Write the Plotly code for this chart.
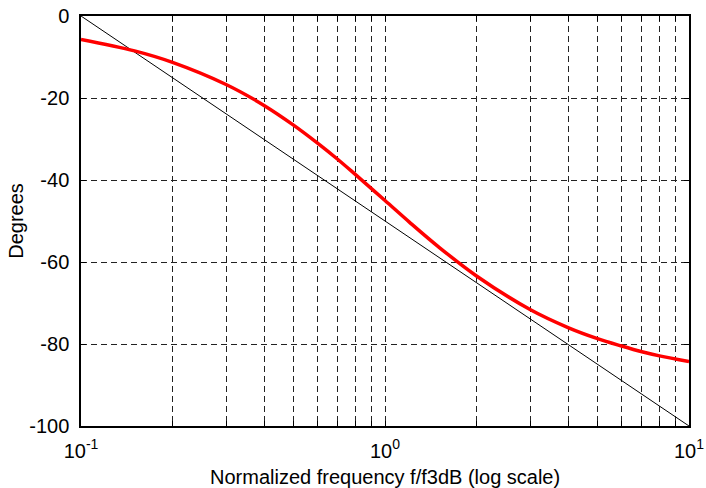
import plotly.graph_objects as go

# Normalized frequency (f/f3dB) and phase in degrees
freq = [0.1, 0.15, 0.2, 0.3, 0.4, 0.5, 0.6, 0.7, 0.8, 1.0, 1.2, 1.5, 2.0, 3.0, 4.0, 5.0, 6.0, 7.0, 8.0, 10.0]
phase = [-5.7, -8.5, -11.3, -16.7, -21.8, -26.6, -31.0, -35.0, -38.7, -45.0, -50.2, -56.3, -63.4, -71.6, -76.0, -78.7, -80.5, -81.9, -82.9, -84.3]

# Straight-line asymptotic approximation
approx_freq = [0.1, 10.0]
approx_phase = [0.0, -100.0]

# Axis ticks
x_major_vals = [0.1, 1, 10]
x_major_text = ["10<sup>-1</sup>", "10<sup>0</sup>", "10<sup>1</sup>"]
x_minor_vals = [0.2, 0.3, 0.4, 0.5, 0.6, 0.7, 0.8, 0.9, 2, 3, 4, 5, 6, 7, 8, 9]
y_tickvals = [0, -20, -40, -60, -80, -100]
y_ticktext = ["0", "-20", "-40", "-60", "-80", "-100"]

x_title = "Normalized frequency f/f3dB (log scale)"
y_title = "Degrees"

FONT = "Liberation Sans, Arial, sans-serif"
GRID = dict(showgrid=True, gridcolor="#222222", gridwidth=1, griddash="6px,4px")

fig = go.Figure()
fig.add_trace(go.Scatter(x=approx_freq, y=approx_phase, mode="lines",
                         line=dict(color="black", width=1), showlegend=False))
fig.add_trace(go.Scatter(x=freq, y=phase, mode="lines", line_shape="spline",
                         line=dict(color="#ff0000", width=3.5), showlegend=False))

axis_common = dict(
    showline=True, linecolor="black", linewidth=1.5, mirror="ticks",
    ticks="inside", ticklen=5, tickcolor="black", tickwidth=1,
    zeroline=False, automargin=False,
    tickfont=dict(family=FONT, size=20, color="black"),
    **GRID,
)

fig.update_xaxes(type="log", range=[-1, 1], tickmode="array",
                 tickvals=x_major_vals, ticktext=x_major_text, ticklabelstandoff=6,
                 minor=dict(tickmode="array", tickvals=x_minor_vals, ticks="inside",
                            ticklen=5, tickcolor="black", tickwidth=1, **GRID),
                 **axis_common)
fig.update_yaxes(range=[-100, 0], tickmode="array",
                 tickvals=y_tickvals, ticktext=y_ticktext, ticklabelstandoff=6,
                 title=dict(text=y_title, font=dict(family=FONT, size=20, color="black"), standoff=0),
                 **axis_common)

fig.add_annotation(text=x_title, xref="paper", yref="paper", x=0.5, y=0,
                   xanchor="center", yanchor="middle", yshift=-51, showarrow=False,
                   font=dict(family=FONT, size=20, color="black"))

fig.update_layout(width=706, height=488,
                  margin=dict(l=81, r=17, t=16, b=62),
                  paper_bgcolor="white", plot_bgcolor="white",
                  font=dict(family=FONT, size=20, color="black"))

fig.write_html("out.html", config={"displayModeBar": False},
               post_script="document.body.style.margin='0';document.body.style.overflow='hidden';")
